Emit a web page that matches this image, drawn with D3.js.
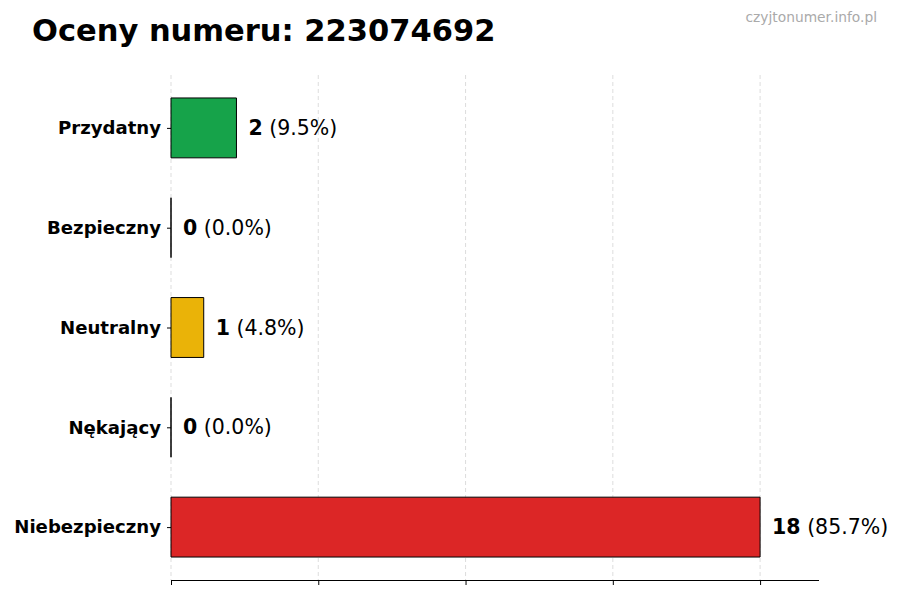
<!DOCTYPE html>
<html>
<head>
<meta charset="utf-8">
<script src="https://cdn.jsdelivr.net/npm/d3@7"></script>
<style>
  body { margin: 0; background: #fff; }
  svg { font-family: "DejaVu Sans", sans-serif; }
</style>
</head>
<body>
<svg id="chart"></svg>
<script>
// chart data
const categories = ["Przydatny", "Bezpieczny", "Neutralny", "Nękający", "Niebezpieczny"];
const counts = [2, 0, 1, 0, 18];
const percents = ["9.5%", "0.0%", "4.8%", "0.0%", "85.7%"];
const colors = ["#16a34a", "#9ca3af", "#eab308", "#f97316", "#dc2626"];
const xTicks = [0, 4.5, 9, 13.5, 18];
const title = "Oceny numeru: 223074692";
const watermark = "czyjtonumer.info.pl";

const w = 900;
const h = 600;
const plotLeft = 171;
const plotRight = 819;
const plotTop = 75;
const plotBottom = 580;

const svg = d3.select("#chart").attr("width", w).attr("height", h);

const xMax = d3.max(counts) * 1.1;
const xScale = d3.scaleLinear().domain([0, xMax]).range([plotLeft, plotRight]);

// category index -> y; matplotlib-style margins around bars of height 0.6
const n = categories.length;
const yScale = d3
  .scaleLinear()
  .domain([-0.53, n - 1 + 0.53])
  .range([plotTop, plotBottom]);
const barH = yScale(0.6) - yScale(0);

svg
  .append("text")
  .attr("x", 32)
  .attr("y", 41)
  .attr("font-size", 30.5)
  .attr("font-weight", "bold")
  .attr("fill", "#000")
  .text(title);

svg
  .append("text")
  .attr("x", 877)
  .attr("y", 22)
  .attr("text-anchor", "end")
  .attr("font-size", 13.8)
  .attr("fill", "#aaaaaa")
  .text(watermark);

// grid
svg
  .append("g")
  .selectAll("line")
  .data(xTicks)
  .enter()
  .append("line")
  .attr("x1", (d) => xScale(d))
  .attr("x2", (d) => xScale(d))
  .attr("y1", plotTop)
  .attr("y2", plotBottom)
  .attr("stroke", "#d4d4d4")
  .attr("stroke-width", 0.8)
  .attr("stroke-dasharray", "4,3");

// bars drawn as paths so zero-width bars still show their edge
svg
  .selectAll("path.bar")
  .data(counts)
  .enter()
  .append("path")
  .attr("class", "bar")
  .attr("d", (d, i) => {
    const x0 = xScale(0);
    const x1 = xScale(d);
    const y0 = yScale(i) - barH / 2;
    const y1 = yScale(i) + barH / 2;
    return `M${x0},${y0}H${x1}V${y1}H${x0}Z`;
  })
  .attr("fill", (d, i) => colors[i])
  .attr("stroke", "#000")
  .attr("stroke-width", 1);

// value labels
const labels = svg
  .selectAll("text.val")
  .data(counts)
  .enter()
  .append("text")
  .attr("class", "val")
  .attr("x", (d) => xScale(d) + 12)
  .attr("y", (d, i) => yScale(i))
  .attr("dy", "0.35em")
  .attr("font-size", 20.5)
  .attr("fill", "#000");
labels
  .append("tspan")
  .attr("font-weight", "bold")
  .text((d) => d);
labels.append("tspan").text((d, i) => " (" + percents[i] + ")");

// x axis
const xAxis = d3.axisBottom(xScale).tickValues(xTicks).tickFormat("").tickSizeOuter(0).tickSize(5);
const gx = svg.append("g").attr("transform", `translate(0, ${plotBottom})`).call(xAxis);
gx.select(".domain").attr("d", `M${plotLeft},0.5H${plotRight}`).attr("stroke", "#000");

// y axis (ticks + labels, no spine)
const yAxis = d3
  .axisLeft(yScale)
  .tickValues(d3.range(n))
  .tickFormat((i) => categories[i])
  .tickSize(4)
  .tickPadding(6);
const gy = svg.append("g").attr("transform", `translate(${plotLeft}, 0)`).call(yAxis);
gy.select(".domain").remove();
gy.selectAll("text")
  .attr("font-size", 18.1)
  .attr("font-weight", "bold")
  .attr("font-family", "DejaVu Sans, sans-serif")
  .attr("fill", "#000");
</script>
</body>
</html>
